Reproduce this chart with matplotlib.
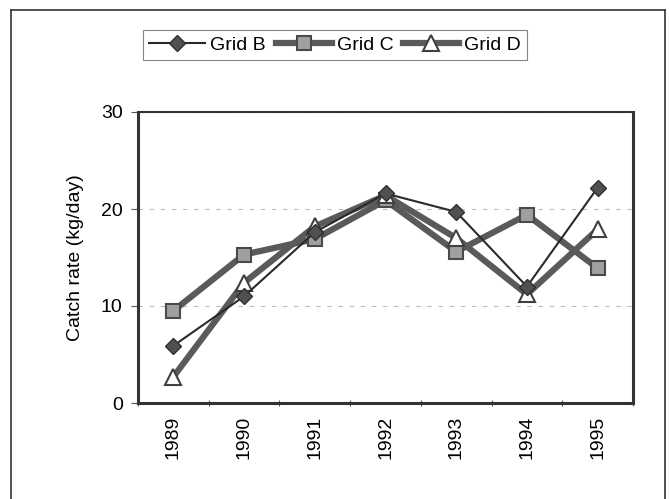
import matplotlib
matplotlib.use("Agg")
import matplotlib.pyplot as plt
from matplotlib.lines import Line2D

plt.rcParams['font.family'] = ['Liberation Sans', 'DejaVu Sans']

years = ["1989", "1990", "1991", "1992", "1993", "1994", "1995"]
grid_b = [5.9, 11.0, 17.6, 21.6, 19.7, 12.0, 22.2]
grid_c = [9.5, 15.3, 16.9, 20.9, 15.6, 19.4, 13.9]
grid_d = [2.7, 12.4, 18.2, 21.4, 17.0, 11.2, 17.9]

fig = plt.figure(figsize=(6.69, 4.99), dpi=100)
ax = fig.add_axes([138/669, 1-403/499, (633-138)/669, (403-112)/499])

x = list(range(len(years)))
ax.plot(x, grid_c, color='#5a5a5a', lw=4.5, marker='s', ms=10,
        mfc='#a0a0a0', mec='#4a4a4a', mew=1.5, label='Grid C', zorder=3)
ax.plot(x, grid_d, color='#5a5a5a', lw=4.5, marker='^', ms=11,
        mfc='white', mec='#404040', mew=1.5, label='Grid D', zorder=4)
ax.plot(x, grid_b, color='#2a2a2a', lw=1.5, marker='D', ms=8.5,
        mfc='#505050', mec='#303030', mew=1, label='Grid B', zorder=5)

ax.set_xlim(-0.5, len(years) - 0.5)
ax.set_ylim(0, 30)
ax.set_yticks([0, 10, 20, 30])
ax.set_xticks([i + 0.5 for i in range(-1, len(years))], minor=False)
ax.set_xticklabels([])
ax.set_xticks(x, minor=True)
ax.set_xticklabels(years, minor=True, rotation=90, fontsize=14)
ax.tick_params(axis='x', which='minor', length=0, pad=9)
ax.tick_params(axis='x', which='major', length=5, direction='inout', color='#555')
ax.tick_params(axis='y', length=5, direction='out', labelsize=14, color='#555', pad=6)
ax.yaxis.grid(True, linestyle=(0, (4, 6)), color='#bdbdbd', lw=0.8)
ax.set_axisbelow(True)

for s in ['left', 'bottom', 'right']:
    ax.spines[s].set_linewidth(2.2)
    ax.spines[s].set_color('#333333')
ax.spines['top'].set_linewidth(1.5)
ax.spines['top'].set_color('#333333')

ax.set_ylabel('Catch rate (kg/day)', fontsize=14, labelpad=12)

handles = [
    Line2D([], [], color='#2a2a2a', lw=1.5, marker='D', ms=8.5, mfc='#505050', mec='#303030'),
    Line2D([], [], color='#5a5a5a', lw=4.5, marker='s', ms=10, mfc='#a0a0a0', mec='#4a4a4a', mew=1.5),
    Line2D([], [], color='#5a5a5a', lw=4.5, marker='^', ms=11, mfc='white', mec='#404040', mew=1.5),
]
leg = fig.legend(handles, ['Grid B', 'Grid C', 'Grid D'], loc='center',
                 bbox_to_anchor=(335/669, 1-45/499), ncol=3, fontsize=14,
                 frameon=True, fancybox=False, handlelength=2.9,
                 columnspacing=0.5, handletextpad=0.25, borderpad=0.3)
leg.get_frame().set_edgecolor('#666666')
leg.get_frame().set_linewidth(0.8)

# outer chart frame
fx0, fx1, fy1 = 11/669, 665/669, 1-10/499
fig.add_artist(Line2D([fx0, fx0], [0, fy1], color='#333', lw=1.2, transform=fig.transFigure))
fig.add_artist(Line2D([fx0, fx1], [fy1, fy1], color='#333', lw=1.2, transform=fig.transFigure))
fig.add_artist(Line2D([fx1, fx1], [0, fy1], color='#333', lw=1.2, transform=fig.transFigure))

fig.savefig('out.png', dpi=100)
